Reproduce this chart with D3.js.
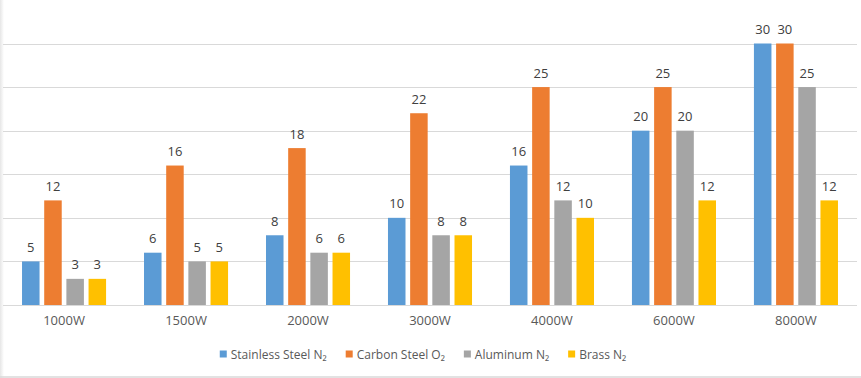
<!DOCTYPE html>
<html>
<head>
<meta charset="utf-8">
<script src="https://cdn.jsdelivr.net/npm/d3@7"></script>
<style>
  body { margin: 0; background: #fff; }
  text { font-family: "Open Sans", "Liberation Sans", sans-serif; }
</style>
</head>
<body>
<div id="chart"></div>
<script>
// Data
var categories = ['1000W', '1500W', '2000W', '3000W', '4000W', '6000W', '8000W'];
var seriesNames = ['Stainless Steel N₂', 'Carbon Steel O₂', 'Aluminum N₂', 'Brass N₂'];
var stainless = [5, 6, 8, 10, 16, 20, 30];
var carbon = [12, 16, 18, 22, 25, 25, 30];
var aluminum = [3, 5, 6, 8, 12, 20, 25];
var brass = [3, 5, 6, 8, 10, 12, 12];
var gridTicks = [0, 5, 10, 15, 20, 25, 30];
var colors = ['#5B9BD5', '#ED7D31', '#A5A5A5', '#FFC000'];

var allSeries = [stainless, carbon, aluminum, brass];

var width = 861, height = 378;

var svg = d3.select('#chart')
    .append('svg')
    .attr('width', width)
    .attr('height', height);

// left edge shadow + bottom border
var grad = svg.append('defs').append('linearGradient').attr('id', 'shadow');
grad.append('stop').attr('offset', '0%').attr('stop-color', '#e6e6e6');
grad.append('stop').attr('offset', '100%').attr('stop-color', '#ffffff');
svg.append('rect').attr('x', 0).attr('y', 0).attr('width', 4).attr('height', height)
    .attr('fill', 'url(#shadow)');
svg.append('line').attr('x1', 0).attr('x2', width).attr('y1', 377).attr('y2', 377)
    .attr('stroke', '#d9d9d9').attr('stroke-width', 1.5);

// scales
var x = d3.scaleBand()
    .domain(categories)
    .range([3, 857])
    .paddingInner(0.311)
    .paddingOuter(0.156);

var xInner = d3.scaleBand()
    .domain(d3.range(4))
    .range([0, x.bandwidth()])
    .paddingInner(0.21);

var y = d3.scaleLinear()
    .domain([0, 30])
    .range([305, 43.5]);

// gridlines
svg.append('g')
    .selectAll('line')
    .data(gridTicks)
    .enter().append('line')
    .attr('x1', 3)
    .attr('x2', 857)
    .attr('y1', function (d) { return Math.round(y(d)) + 0.5; })
    .attr('y2', function (d) { return Math.round(y(d)) + 0.5; })
    .attr('stroke', '#d9d9d9')
    .attr('stroke-width', 1);

// bars
var groups = svg.selectAll('.group')
    .data(categories)
    .enter().append('g')
    .attr('class', 'group')
    .attr('transform', function (d) { return 'translate(' + x(d) + ',0)'; });

groups.each(function (cat, ci) {
    var g = d3.select(this);
    allSeries.forEach(function (vals, si) {
        var v = vals[ci];
        g.append('rect')
            .attr('x', xInner(si))
            .attr('y', y(v))
            .attr('width', xInner.bandwidth())
            .attr('height', y(0) - y(v))
            .attr('fill', colors[si]);
        g.append('text')
            .attr('x', xInner(si) + xInner.bandwidth() / 2)
            .attr('y', y(v) - 9.5)
            .attr('text-anchor', 'middle')
            .attr('font-size', 13)
            .attr('fill', '#404040')
            .text(v);
    });
});

// x axis labels
svg.append('g')
    .attr('transform', 'translate(0,' + y(0) + ')')
    .call(d3.axisBottom(x).tickSize(0).tickPadding(11))
    .call(function (g) { g.select('.domain').remove(); })
    .selectAll('text')
    .attr('font-size', 13)
    .attr('fill', '#595959')
    .style('font-family', '"Open Sans", "Liberation Sans", sans-serif');

// legend
var legend = svg.append('g');
var lx = 0;
seriesNames.forEach(function (name, i) {
    var item = legend.append('g').attr('transform', 'translate(' + lx + ',0)');
    item.append('rect')
        .attr('x', 0).attr('y', 350.5)
        .attr('width', 7).attr('height', 7)
        .attr('fill', colors[i]);
    var t = item.append('text')
        .attr('x', 11).attr('y', 358.5)
        .attr('font-size', 12)
        .attr('fill', '#595959')
        .text(name);
    lx += 11 + t.node().getComputedTextLength() + 19;
});
var legendWidth = lx - 19;
legend.attr('transform', 'translate(' + (423 - legendWidth / 2) + ',0)');
</script>
</body>
</html>
